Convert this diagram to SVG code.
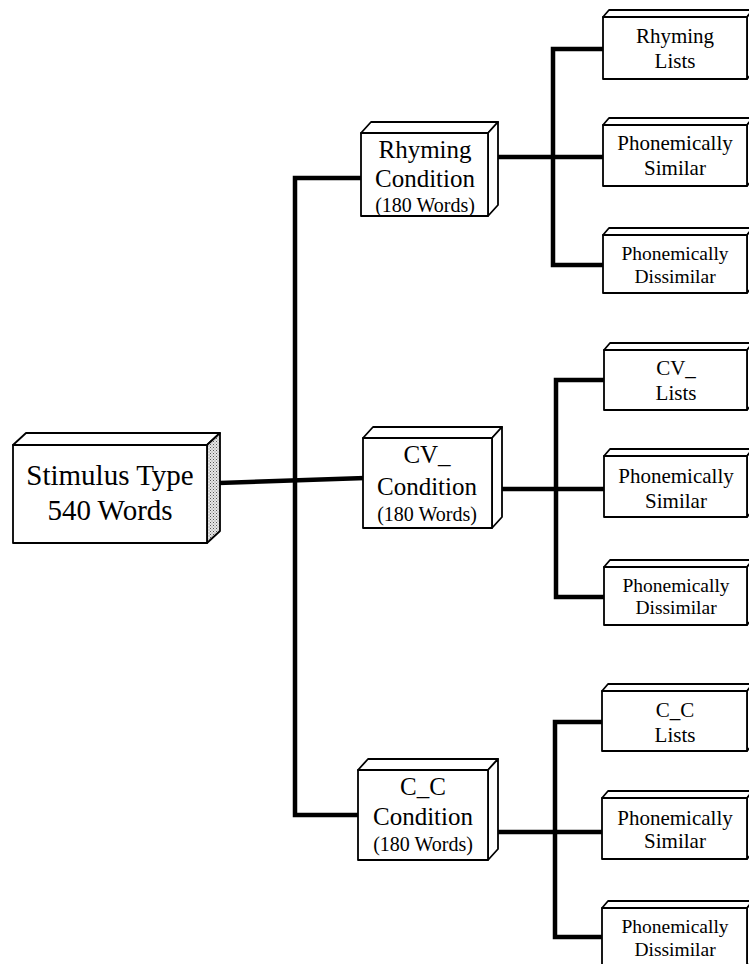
<svg xmlns="http://www.w3.org/2000/svg" width="749" height="964" viewBox="0 0 749 964">
<defs>
<pattern id="dots" width="3" height="3" patternUnits="userSpaceOnUse">
<rect width="3" height="3" fill="#e6e6e6"/>
<rect x="0" y="0" width="1" height="1" fill="#555"/>
<rect x="1.5" y="1.5" width="1" height="1" fill="#888"/>
</pattern>
</defs>
<style>
.f{fill:#fff;stroke:#000;stroke-width:1.8;stroke-linejoin:round}
.s{fill:url(#dots);stroke:#000;stroke-width:1.8;stroke-linejoin:round}
.c{fill:none;stroke:#000;stroke-width:4.5;stroke-linejoin:miter;stroke-linecap:square}
text{font-family:'Liberation Serif','DejaVu Serif',serif;fill:#000;text-anchor:middle}
.t1{font-size:29px}
.t2{font-size:25px}
.t3{font-size:20px}
.t4{font-size:21px}
.t5{font-size:19.5px}
</style>
<rect width="749" height="964" fill="#fff"/>

<g id="connectors">
<path class="c" d="M361,178 H295 V815 H358"/>
<path class="c" d="M220,483 L363,478"/>
<path class="c" d="M498,157 H603 M603,49 H553 V265 H603"/>
<path class="c" d="M502,489 H604 M604,380 H556 V597 H604"/>
<path class="c" d="M498,832 H602 M602,722 H555 V937 H602"/>
</g>

<g font-family="Liberation Serif, DejaVu Serif, serif">
<g id="stimulus">
<polygon class="f" points="13,445 26,433 220,433 207,445"/>
<polygon class="s" points="207,445 220,433 220,531 207,543"/>
<rect class="f" x="13" y="445" width="194" height="98"/>
<text class="t1" x="110" y="485" font-family="Liberation Serif, serif">Stimulus Type</text>
<text class="t1" x="110" y="520" font-family="Liberation Serif, serif">540 Words</text>
</g>

<g id="rhyming-condition">
<polygon class="f" points="361,133 371,122 498,122 488,133"/>
<polygon class="f" points="488,133 498,122 498,205 488,216"/>
<rect class="f" x="361" y="133" width="127" height="83"/>
<text class="t2" x="425" y="158" font-family="Liberation Serif, serif">Rhyming</text>
<text class="t2" x="425" y="187" font-family="Liberation Serif, serif">Condition</text>
<text class="t3" x="425" y="212" font-family="Liberation Serif, serif">(180 Words)</text>
</g>

<g id="cv-condition">
<polygon class="f" points="363,438 373,427 502,427 492,438"/>
<polygon class="f" points="492,438 502,427 502,517 492,528"/>
<rect class="f" x="363" y="438" width="129" height="90"/>
<text class="t2" x="427" y="463" font-family="Liberation Serif, serif">CV_</text>
<text class="t2" x="427" y="495" font-family="Liberation Serif, serif">Condition</text>
<text class="t3" x="427" y="521" font-family="Liberation Serif, serif">(180 Words)</text>
</g>

<g id="cc-condition">
<polygon class="f" points="358,770 368,759 498,759 488,770"/>
<polygon class="f" points="488,770 498,759 498,849 488,860"/>
<rect class="f" x="358" y="770" width="130" height="90"/>
<text class="t2" x="423" y="795" font-family="Liberation Serif, serif">C_C</text>
<text class="t2" x="423" y="825" font-family="Liberation Serif, serif">Condition</text>
<text class="t3" x="423" y="851" font-family="Liberation Serif, serif">(180 Words)</text>
</g>

<g id="rhyming-lists">
<polygon class="f" points="603,17 609,10 753,10 747,17"/>
<polygon class="f" points="747,17 753,10 753,72 747,79"/>
<rect class="f" x="603" y="17" width="144" height="62"/>
<text class="t4" x="675" y="43" font-family="Liberation Serif, serif">Rhyming</text>
<text class="t4" x="675" y="68" font-family="Liberation Serif, serif">Lists</text>
</g>
<g id="rhyming-similar">
<polygon class="f" points="603,125 609,118 753,118 747,125"/>
<polygon class="f" points="747,125 753,118 753,179 747,186"/>
<rect class="f" x="603" y="125" width="144" height="61"/>
<text class="t4" x="675" y="150" font-family="Liberation Serif, serif">Phonemically</text>
<text class="t4" x="675" y="175" font-family="Liberation Serif, serif">Similar</text>
</g>
<g id="rhyming-dissimilar">
<polygon class="f" points="603,235 609,228 753,228 747,235"/>
<polygon class="f" points="747,235 753,228 753,286 747,293"/>
<rect class="f" x="603" y="235" width="144" height="58"/>
<text class="t5" x="675" y="260" font-family="Liberation Serif, serif">Phonemically</text>
<text class="t5" x="675" y="283" font-family="Liberation Serif, serif">Dissimilar</text>
</g>

<g id="cv-lists">
<polygon class="f" points="604,350 610,343 753,343 747,350"/>
<polygon class="f" points="747,350 753,343 753,403 747,410"/>
<rect class="f" x="604" y="350" width="143" height="60"/>
<text class="t4" x="676" y="375" font-family="Liberation Serif, serif">CV_</text>
<text class="t4" x="676" y="400" font-family="Liberation Serif, serif">Lists</text>
</g>
<g id="cv-similar">
<polygon class="f" points="604,456 610,449 753,449 747,456"/>
<polygon class="f" points="747,456 753,449 753,510 747,517"/>
<rect class="f" x="604" y="456" width="143" height="61"/>
<text class="t4" x="676" y="483" font-family="Liberation Serif, serif">Phonemically</text>
<text class="t4" x="676" y="508" font-family="Liberation Serif, serif">Similar</text>
</g>
<g id="cv-dissimilar">
<polygon class="f" points="604,567 610,560 753,560 747,567"/>
<polygon class="f" points="747,567 753,560 753,618 747,625"/>
<rect class="f" x="604" y="567" width="143" height="58"/>
<text class="t5" x="676" y="592" font-family="Liberation Serif, serif">Phonemically</text>
<text class="t5" x="676" y="614" font-family="Liberation Serif, serif">Dissimilar</text>
</g>

<g id="cc-lists">
<polygon class="f" points="602,691 608,684 753,684 747,691"/>
<polygon class="f" points="747,691 753,684 753,744 747,751"/>
<rect class="f" x="602" y="691" width="145" height="60"/>
<text class="t4" x="675" y="717" font-family="Liberation Serif, serif">C_C</text>
<text class="t4" x="675" y="742" font-family="Liberation Serif, serif">Lists</text>
</g>
<g id="cc-similar">
<polygon class="f" points="602,798 608,791 753,791 747,798"/>
<polygon class="f" points="747,798 753,791 753,852 747,859"/>
<rect class="f" x="602" y="798" width="145" height="61"/>
<text class="t4" x="675" y="825" font-family="Liberation Serif, serif">Phonemically</text>
<text class="t4" x="675" y="848" font-family="Liberation Serif, serif">Similar</text>
</g>
<g id="cc-dissimilar">
<polygon class="f" points="602,908 608,901 753,901 747,908"/>
<polygon class="f" points="747,908 753,901 753,960 747,967"/>
<rect class="f" x="602" y="908" width="145" height="59"/>
<text class="t5" x="675" y="933" font-family="Liberation Serif, serif">Phonemically</text>
<text class="t5" x="675" y="956" font-family="Liberation Serif, serif">Dissimilar</text>
</g>
</g>
</svg>
